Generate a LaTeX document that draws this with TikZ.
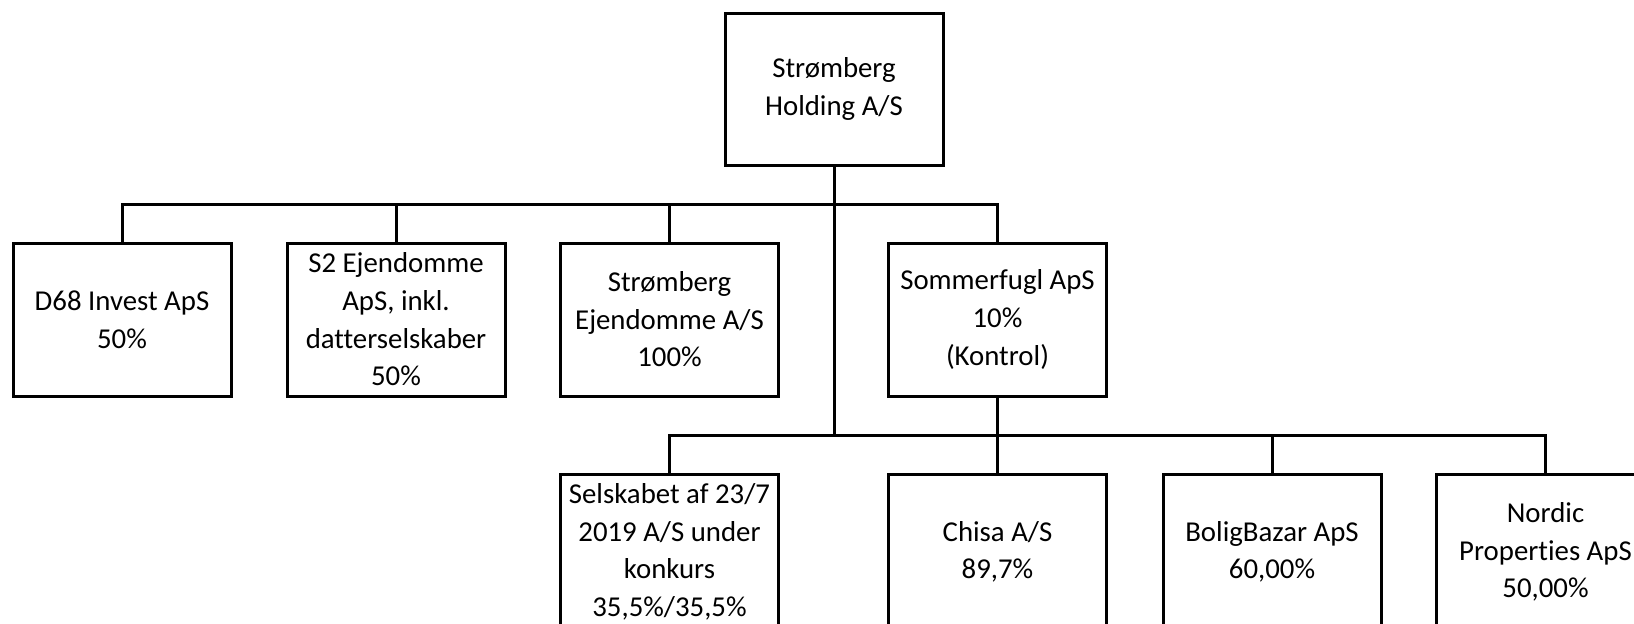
\documentclass[tikz,border=0pt]{standalone}
\usepackage{fontspec}
\setmainfont{Carlito}[Ligatures=CommonOff]
\usepackage{tikz}
\usetikzlibrary{positioning, calc}

\begin{document}
\begin{tikzpicture}[
    x=0.5pt, y=-0.5pt,
    line width=1.5pt,
    every node/.style={font=\fontsize{14.4}{18.8}\selectfont},
    company/.style={draw, align=center, inner sep=2pt, minimum width=109pt, minimum height=76.5pt},
    lowcompany/.style={company, minimum height=78pt},
    link/.style={draw}
]
    \useasboundingbox (0,0) rectangle (1634,623);
    \clip (0,0) rectangle (1634,623);

    % parent at the top, first row of holdings below it
    \node[company, minimum height=76pt] (holding) at (834,89) {Strømberg\\Holding A/S};
    \node[company] (d68) at (122,319.5) {D68 Invest ApS\\50\%};
    \node[company] (s2) at (396,319.5) {S2 Ejendomme\\ApS, inkl.\\datterselskaber\\50\%};
    \node[company] (ejendomme) at (669.5,319.5) {Strømberg\\Ejendomme A/S\\100\%};
    \node[company] (sommerfugl) at (997.5,319.5) {Sommerfugl ApS\\10\%\\(Kontrol)};

    % second row, runs off the bottom edge
    \node[lowcompany] (selskabet) at (669.5,552) {Selskabet af 23/7\\2019 A/S under\\konkurs\\35,5\%/35,5\%};
    \node[lowcompany] (chisa) at (997.5,552) {Chisa A/S\\89,7\%};
    \node[lowcompany] (bolig) at (1272,552) {BoligBazar ApS\\60,00\%};
    \node[lowcompany] (nordic) at (1545.5,552) {Nordic\\Properties ApS\\50,00\%};

    \coordinate (bus1) at (834,204);
    \coordinate (bus2) at (834,435);

    \path[link]
        (holding.south) -- (bus2)
        (d68.north) |- (bus1) -| (sommerfugl.north)
        (s2.north) -- (s2.north |- bus1)
        (ejendomme.north) -- (ejendomme.north |- bus1)
        (selskabet.north) |- (bus2) -| (nordic.north)
        (sommerfugl.south) -- (chisa.north)
        (bolig.north) -- (bolig.north |- bus2);
\end{tikzpicture}
\end{document}
